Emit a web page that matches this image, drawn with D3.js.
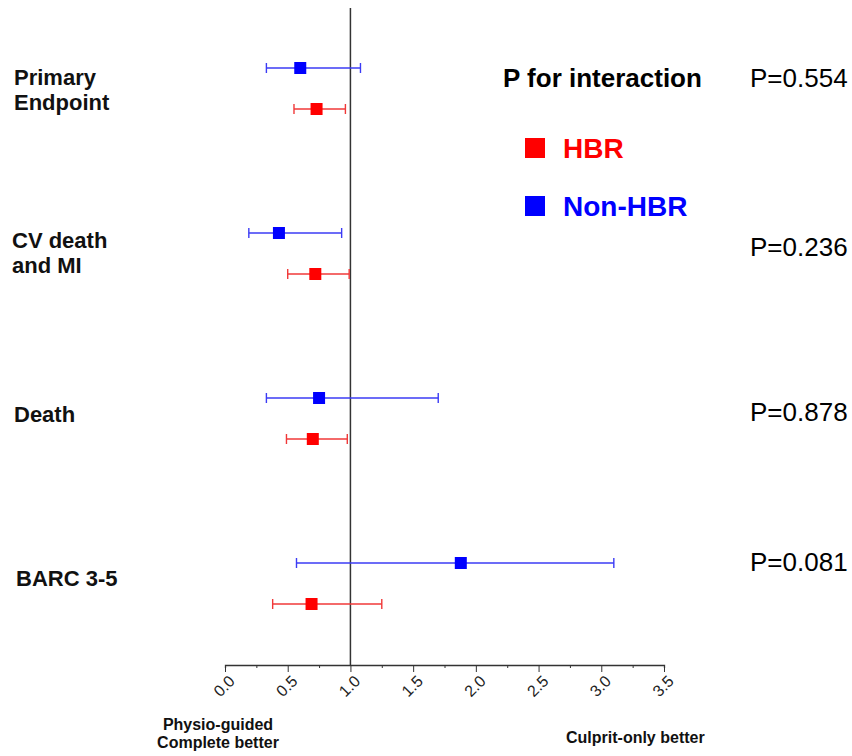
<!DOCTYPE html>
<html>
<head>
<meta charset="utf-8">
<script src="https://cdn.jsdelivr.net/npm/d3@7"></script>
<style>
  body { margin: 0; background: #fff; }
  svg { font-family: Arial, "Liberation Sans", sans-serif; }
</style>
</head>
<body>
<div class="vis"></div>
<script>
// endpoints (one row each), top to bottom
var endpoints = [["Primary", "Endpoint"], ["CV death", "and MI"], ["Death"], ["BARC 3-5"]];
var pValues   = ["P=0.554", "P=0.236", "P=0.878", "P=0.081"];

// hazard ratios with 95% CI
var nonHbrHR    = [0.60, 0.43, 0.75, 1.88];
var nonHbrLower = [0.33, 0.19, 0.33, 0.57];
var nonHbrUpper = [1.08, 0.93, 1.70, 3.10];

var hbrHR    = [0.73, 0.72, 0.70, 0.69];
var hbrLower = [0.55, 0.50, 0.49, 0.38];
var hbrUpper = [0.96, 0.99, 0.975, 1.25];

var tickValues = [0, 0.5, 1, 1.5, 2, 2.5, 3, 3.5];

var width = 852, height = 756;

var svg = d3.select("div.vis")
            .append("svg")
            .attr("width", width)
            .attr("height", height);

var x = d3.scaleLinear().domain([0, 3.5]).range([225, 664]);
var axisY = 665;

// row positions: blue (non-HBR) on top, red (HBR) below
var rowY = d3.scaleLinear().domain([0, 3]).range([68, 563]);
var hbrOffset = 41;

// build mark data
var marks = [];
endpoints.forEach(function(e, i) {
    marks.push({ y: rowY(i), hr: nonHbrHR[i], lo: nonHbrLower[i], hi: nonHbrUpper[i],
                 fill: "#0000ff", line: "#3b3bf5" });
    marks.push({ y: rowY(i) + hbrOffset, hr: hbrHR[i], lo: hbrLower[i], hi: hbrUpper[i],
                 fill: "#ff0000", line: "#f03838" });
});

// reference line at HR = 1
svg.append("line")
   .attr("x1", x(1)).attr("x2", x(1))
   .attr("y1", 8).attr("y2", axisY)
   .attr("stroke", "#333").attr("stroke-width", 1.5);

// x axis
var axis = d3.axisBottom(x)
             .tickValues(d3.range(0, 3.51, 0.25))
             .tickSize(3)
             .tickFormat("");
var gAxis = svg.append("g")
               .attr("transform", "translate(0," + axisY + ")")
               .call(axis);
gAxis.select(".domain").attr("stroke", "#333").attr("stroke-width", 1.3);
gAxis.selectAll(".tick line")
     .attr("stroke", "#333")
     .attr("y2", function(d) { return (d * 2) % 1 === 0 ? 7 : 3; });

svg.selectAll("text.tick-label")
   .data(tickValues)
   .enter()
   .append("text")
   .attr("class", "tick-label")
   .attr("transform", function(d) { return "translate(" + (x(d) + 3) + "," + (axisY + 25) + ") rotate(-45)"; })
   .attr("text-anchor", "middle")
   .style("font-size", "16px")
   .style("fill", "#222")
   .text(function(d) { return d.toFixed(1); });

// error bars
var bars = svg.append("g").selectAll("g")
              .data(marks)
              .enter()
              .append("g");

bars.append("line")
    .attr("x1", function(d) { return x(d.lo); })
    .attr("x2", function(d) { return x(d.hi); })
    .attr("y1", function(d) { return d.y; })
    .attr("y2", function(d) { return d.y; })
    .attr("stroke", function(d) { return d.line; })
    .attr("stroke-width", 1.4);

["lo", "hi"].forEach(function(k) {
    bars.append("line")
        .attr("x1", function(d) { return x(d[k]); })
        .attr("x2", function(d) { return x(d[k]); })
        .attr("y1", function(d) { return d.y - 5; })
        .attr("y2", function(d) { return d.y + 5; })
        .attr("stroke", function(d) { return d.line; })
        .attr("stroke-width", 1.4);
});

bars.append("rect")
    .attr("x", function(d) { return x(d.hr) - 6; })
    .attr("y", function(d) { return d.y - 6; })
    .attr("width", 12)
    .attr("height", 12)
    .attr("fill", function(d) { return d.fill; });

// endpoint labels
var labelBase = [85, 248, 422, 586];
var labelX    = [14, 12, 14, 16];
endpoints.forEach(function(lines, i) {
    var t = svg.append("text")
               .attr("x", labelX[i])
               .attr("y", labelBase[i])
               .style("font-size", "22px")
               .style("font-weight", "bold")
               .style("fill", "#111");
    lines.forEach(function(l, j) {
        t.append("tspan")
         .attr("x", labelX[i])
         .attr("dy", j === 0 ? 0 : 25)
         .text(l);
    });
});

// p values
var pBase = [87, 256, 421, 571];
svg.selectAll("text.pval")
   .data(pValues)
   .enter()
   .append("text")
   .attr("class", "pval")
   .attr("x", 750)
   .attr("y", function(d, i) { return pBase[i]; })
   .style("font-size", "26px")
   .style("fill", "#000")
   .text(function(d) { return d; });

svg.append("text")
   .attr("x", 503).attr("y", 87)
   .style("font-size", "26px")
   .style("font-weight", "bold")
   .text("P for interaction");

// legend
var legend = [{ name: "HBR", color: "#ff0000", y: 148 }, { name: "Non-HBR", color: "#0000ff", y: 206 }];
var lg = svg.selectAll("g.legend")
            .data(legend)
            .enter()
            .append("g")
            .attr("class", "legend");
lg.append("rect")
  .attr("x", 525).attr("y", function(d) { return d.y - 10; })
  .attr("width", 20).attr("height", 20)
  .attr("fill", function(d) { return d.color; });
lg.append("text")
  .attr("x", 563).attr("y", function(d) { return d.y + 10; })
  .style("font-size", "28px")
  .style("font-weight", "bold")
  .style("fill", function(d) { return d.color; })
  .text(function(d) { return d.name; });

// axis direction labels
var left = svg.append("text")
              .attr("text-anchor", "middle")
              .style("font-size", "16px")
              .style("font-weight", "bold")
              .style("fill", "#111");
left.append("tspan").attr("x", 218).attr("y", 730).text("Physio-guided");
left.append("tspan").attr("x", 218).attr("y", 748).text("Complete better");

svg.append("text")
   .attr("x", 566).attr("y", 743)
   .style("font-size", "16px")
   .style("font-weight", "bold")
   .style("fill", "#111")
   .text("Culprit-only better");
</script>
</body>
</html>
